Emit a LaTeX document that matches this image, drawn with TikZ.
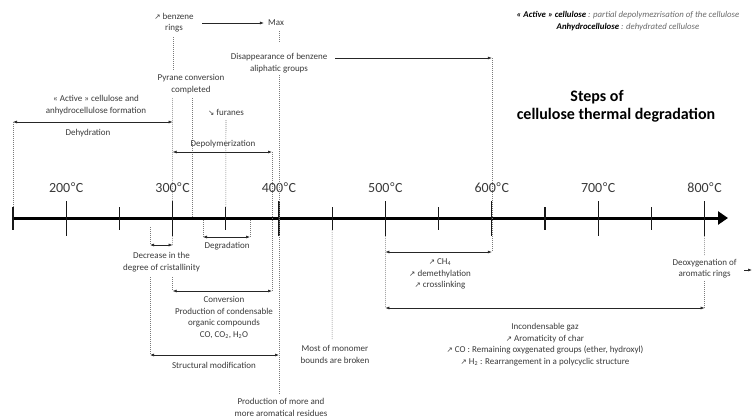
\documentclass[tikz,border=0pt]{standalone}
\usepackage{fontspec}
\setmainfont{Carlito}
\newfontfamily\symfont{DejaVu Sans}
\newfontfamily\degfont{Liberation Sans}
\usetikzlibrary{arrows.meta}
\definecolor{txt}{HTML}{3A3A3A}
\definecolor{dots}{HTML}{7A7A7A}
\definecolor{notegray}{HTML}{6A6A6A}
\newcommand\uparr{{\symfont\fontsize{7.5}{7.5}\selectfont ↗}}
\newcommand\dnarr{{\symfont\fontsize{7.5}{7.5}\selectfont ↘}}
\newcommand\degC{{\degfont °}C}
\begin{document}
\begin{tikzpicture}[x=1pt,y=-1pt,
  lbl/.style={font=\fontsize{9}{11.5}\selectfont, text=txt, align=center, inner sep=0pt},
  temp/.style={font=\fontsize{14}{14}\selectfont, text=txt, inner sep=0pt},
  dim/.style={{Latex[length=4pt,width=3pt]}-{Latex[length=4pt,width=3pt]}, line width=0.6pt, draw=black!85},
  arr/.style={-{Latex[length=4pt,width=3pt]}, line width=0.6pt, draw=black!85},
  guide/.style={draw=dots, line width=0.55pt, dash pattern=on 1pt off 1pt},
  tickmark/.style={line width=1.2pt, draw=black!90}]
\useasboundingbox (0,0) rectangle (752,418);

% ---------- axis ----------
\coordinate (a0) at (13,218);
\coordinate (aend) at (728,218);
\draw[line width=3pt, -{Triangle[length=10pt,width=13pt]}] (a0) -- (aend);
\foreach \i in {0,...,13}{
  \pgfmathsetmacro\xx{13+53.2*\i}
  \coordinate (t\i) at (\xx,218);
  \ifodd\i
    \draw[tickmark] (\xx,201) coordinate (t\i top) -- (\xx,236) coordinate (t\i bot);
  \else
    \draw[tickmark] (\xx,207) coordinate (t\i top) -- (\xx,230) coordinate (t\i bot);
  \fi
}
\node[temp] (l200) at (66.2,188) {200\degC};
\node[temp] (l300) at (172.6,188) {300\degC};
\node[temp] (l400) at (279,188) {400\degC};
\node[temp] (l500) at (385.4,188) {500\degC};
\node[temp] (l600) at (491.8,188) {600\degC};
\node[temp] (l700) at (598.2,188) {700\degC};
\node[temp] (l800) at (704.6,188) {800\degC};

% ---------- title and note ----------
\node[font=\bfseries\fontsize{16}{18}\selectfont, align=center, inner sep=0pt] (title) at (616,106)
  {Steps of\hspace*{38pt}\\cellulose thermal degradation};
\node[font=\fontsize{8.8}{12}\selectfont, align=center, inner sep=0pt] (note) at (628,21)
  {\textbf{\textit{« Active » cellulose}} \textcolor{notegray}{\textit{: partial depolymezrisation of the cellulose}}\\
   \textbf{\textit{Anhydrocellulose}} \textcolor{notegray}{\textit{: dehydrated cellulose}}};

% ---------- upper labels ----------
\node[lbl] (benz) at (174,22.5) {\uparr{} benzene\\rings};
\node[lbl] (max) at (276,23) {Max};
\coordinate (bz1) at (202,23);
\draw[arr] (bz1) -- ([xshift=-4pt]max.west);
\coordinate (g173a) at (173,37);
\coordinate (g173b) at (173,70);
\draw[guide] (g173a) -- (g173b);

\coordinate (g279a) at (279,31);
\coordinate (g279b) at (279,42);
\draw[guide] (g279a) -- (g279b);
\node[lbl] (disp) at (279,63) {Disappearance of benzene\\aliphatic groups};
\coordinate (dis1) at (335,58);
\coordinate (dis2) at (491.8,58);
\draw[arr] (dis1) -- (dis2);
\coordinate (g600b) at (491.8,252);
\draw[guide] (dis2) -- (g600b);
\coordinate (g279c) at (279,75);
\coordinate (g279d) at (279,394);
\draw[guide] (g279c) -- (g279d);

\node[lbl] (pyr) at (191,84) {Pyrane conversion\\completed};
\coordinate (g192a) at (192,98);
\coordinate (g192b) at (192,217);
\draw[guide] (g192a) -- (g192b);

\node[lbl] (act) at (96,105) {« Active » cellulose and\\anhydrocellulose formation};
\coordinate (deh1) at (13,122);
\coordinate (deh2) at (172.6,122);
\draw[dim] (deh1) -- (deh2);
\node[lbl] (deh) at (88,133.5) {Dehydration};
\draw[guide] (deh1) -- (t0top);
\coordinate (g173c) at (172.6,98);
\draw[guide] (g173c) -- (t3top);

\node[lbl] (fur) at (226,112) {\dnarr{} furanes};
\coordinate (g226a) at (226,120);
\draw[guide] (g226a) -- (t4top);

\node[lbl] (depol) at (223,144) {Depolymerization};
\coordinate (dep1) at (172.6,152);
\coordinate (dep2) at (272,152);
\draw[dim] (dep1) -- (dep2);

% ---------- lower labels ----------
\coordinate (cv2) at (272,291);
\draw[guide] (dep2) -- (cv2);

\node[lbl] (decr) at (161.5,262) {Decrease in the\\degree of cristallinity};
\coordinate (dc1) at (150,245);
\coordinate (dc2) at (172.6,245);
\draw[dim] (dc1) -- (dc2);
\coordinate (g150a) at (150,227);
\draw[guide] (g150a) -- (dc1);
\draw[guide] (t3bot) -- (dc2);

\coordinate (dg1) at (203,237);
\coordinate (dg2) at (250,237);
\coordinate (g203a) at (203,220);
\coordinate (g250a) at (250,220);
\draw[guide] (g203a) -- (dg1);
\draw[guide] (g250a) -- (dg2);
\draw[dim] (dg1) -- (dg2);
\node[lbl] (degr) at (227,246.5) {Degradation};

\coordinate (cv1) at (172.6,291);
\coordinate (g173d) at (172.6,277);
\draw[guide] (g173d) -- (cv1);
\draw[dim] (cv1) -- (cv2);
\node[lbl] (conv) at (224,317.5) {Conversion\\Production of condensable\\organic compounds\\CO, CO\textsubscript{2}, H\textsubscript{2}O};

\coordinate (sm1) at (150,355);
\coordinate (sm2) at (279,355);
\coordinate (g150b) at (150,277);
\draw[guide] (g150b) -- (sm1);
\draw[dim] (sm1) -- (sm2);
\node[lbl] (struct) at (214,365.5) {Structural modification};

\node[lbl] (prod) at (281,407.5) {Production of more and\\more aromatical residues};

\coordinate (g333b) at (332.2,340);
\draw[guide] (t6bot) -- (g333b);
\node[lbl] (mono) at (335,354.5) {Most of monomer\\bounds are broken};

\coordinate (ch1) at (385.4,252);
\draw[dim] (ch1) -- (g600b);
\node[lbl] (ch4) at (440,274) {\uparr{} CH\textsubscript{4}\\\uparr{} demethylation\\\uparr{} crosslinking};

\coordinate (in1) at (385.4,308);
\coordinate (in2) at (704.6,308);
\draw[guide] (t7bot) -- (in1);
\draw[dim] (in1) -- (in2);
\node[lbl] (incond) at (545,344.5) {Incondensable gaz\\\uparr{} Aromaticity of char\\\uparr{} CO : Remaining oxygenated groups (ether, hydroxyl)\\\uparr{} H\textsubscript{2} : Rearrangement in a polycyclic structure};

\node[lbl] (deox) at (704.6,268.5) {Deoxygenation of\\aromatic rings};
\coordinate (g705a) at (704.6,256);
\coordinate (g705b) at (704.6,281);
\draw[guide] (t13bot) -- (g705a);
\draw[guide] (g705b) -- (in2);

\coordinate (ex1) at (744,270);
\coordinate (ex2) at (752,270);
\draw[arr] (ex1) -- (ex2);
\end{tikzpicture}
\end{document}
